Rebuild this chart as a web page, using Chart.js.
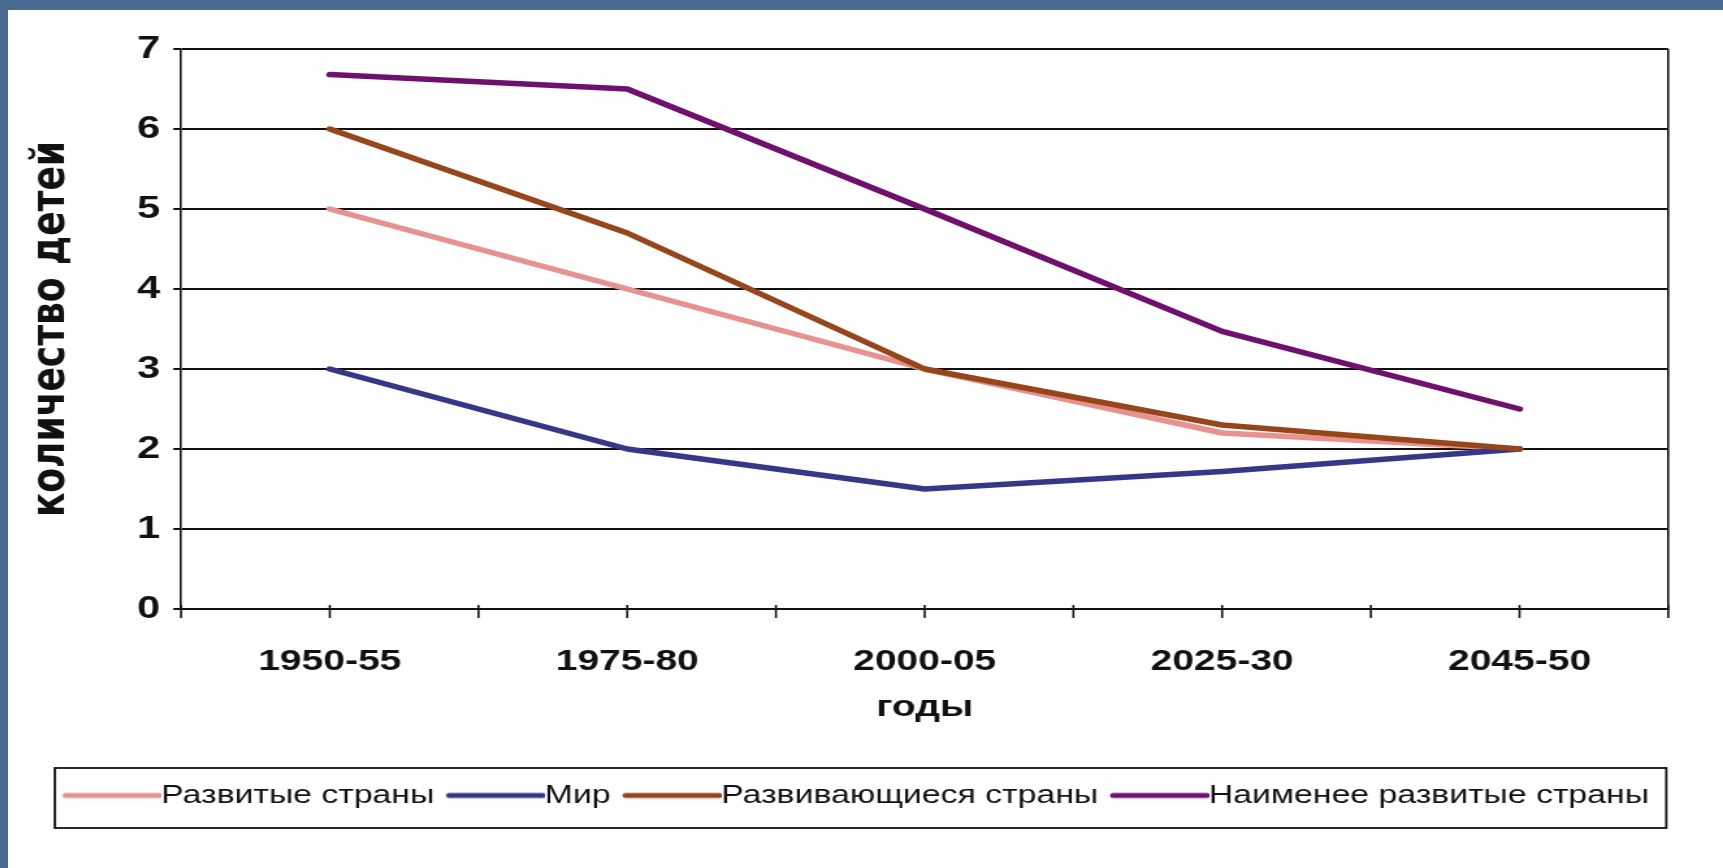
<!DOCTYPE html>
<html>
<head>
<meta charset="utf-8">
<script src="https://cdn.jsdelivr.net/npm/chart.js@4.4.1/dist/chart.umd.min.js"></script>
<style>
html,body{margin:0;padding:0;}
body{width:1723px;height:868px;background:#4b6a92;overflow:hidden;position:relative;}
#panel{position:absolute;left:8px;top:10px;width:1715px;height:858px;background:#ffffff;overflow:hidden;}
#wrap{position:absolute;left:0;top:0;width:1319px;height:858px;transform:scaleX(1.30023);transform-origin:0 0;}
</style>
</head>
<body>
<div id="panel"><div id="wrap"><canvas id="c" width="1319" height="858"></canvas></div></div>
<script>
// ---- data ----
const categories = ['1950-55', '1975-80', '2000-05', '2025-30', '2045-50'];
const seriesNames = ['Развитые страны', 'Мир', 'Развивающиеся страны', 'Наименее развитые страны'];
const developed = [5.0, 4.0, 3.0, 2.2, 2.0];
const world = [3.0, 2.0, 1.5, 1.72, 2.0];
const developing = [6.0, 4.7, 3.0, 2.3, 2.0];
const leastDeveloped = [6.68, 6.5, 5.0, 3.47, 2.5];
const yMin = 0, yMax = 7, yStep = 1;
const xTitle = 'годы';
const yTitle = 'количество детей';

// ---- styles ----
const seriesColors = ['#e8928f', '#37378a', '#96461a', '#6f106f'];
const drawOrder = [4, 3, 2, 1];
const FONT = "'Liberation Sans', Arial, sans-serif";
const TITLE_FONT = "'DejaVu Sans', 'Liberation Sans', sans-serif";
const INK = '#111111';

function legendLine(color) {
  const c = document.createElement('canvas');
  c.width = 89; c.height = 12;
  const g = c.getContext('2d');
  g.strokeStyle = color; g.lineWidth = 5; g.lineCap = 'round';
  g.beginPath(); g.moveTo(15, 6); g.lineTo(87, 6); g.stroke();
  return c;
}

const allSeries = [developed, world, developing, leastDeveloped];

const extras = {
  id: 'extras',
  afterDraw(chart) {
    const {ctx, chartArea, scales} = chart;
    const x = scales.x;
    const y0 = chartArea.bottom;
    const half = (x.getPixelForValue(1) - x.getPixelForValue(0)) / 2;
    ctx.save();
    ctx.strokeStyle = INK;
    ctx.lineWidth = 1.6;
    ctx.beginPath();
    for (let i = 0; i < categories.length; i++) {
      const c = x.getPixelForValue(i);
      const marks = [c - half, c];
      if (i === categories.length - 1) marks.push(c + half);
      marks.forEach(px => { ctx.moveTo(px, y0 - 4); ctx.lineTo(px, y0 + 9); });
    }
    ctx.stroke();
    const lg = chart.legend;
    ctx.lineWidth = 1.8;
    ctx.strokeRect(lg.left + 8, lg.top - 4.5, (lg.right - 1.5) - (lg.left + 8), 60);
    ctx.restore();
  }
};

new Chart(document.getElementById('c'), {
  type: 'line',
  data: {
    labels: categories,
    datasets: allSeries.map((vals, i) => ({
      label: seriesNames[i],
      data: vals,
      borderColor: seriesColors[i],
      backgroundColor: seriesColors[i],
      borderWidth: 5.5,
      pointRadius: 0,
      tension: 0,
      fill: false,
      order: drawOrder[i],
      borderCapStyle: 'round',
      borderJoinStyle: 'round'
    }))
  },
  options: {
    responsive: false,
    animation: false,
    layout: { padding: { left: 28, right: 42.1, top: 39, bottom: 49.5 } },
    plugins: {
      tooltip: { enabled: false },
      legend: {
        position: 'bottom',
        align: 'center',
        labels: {
          usePointStyle: true,
          pointStyleWidth: 62,
          padding: 10,
          color: INK,
          font: { family: FONT, size: 26 },
          sort: (a, b) => a.datasetIndex - b.datasetIndex,
          generateLabels(chart) {
            const items = Chart.defaults.plugins.legend.labels.generateLabels(chart);
            items.forEach(it => { it.pointStyle = legendLine(seriesColors[it.datasetIndex]); });
            return items;
          }
        }
      }
    },
    scales: {
      x: {
        offset: true,
        grid: {
          offset: true,
          drawTicks: false,
          lineWidth: 1.6,
          color: c => (c.type === 'scale' ? INK : 'rgba(0,0,0,0)')
        },
        border: { display: true, color: INK, width: 2 },
        ticks: {
          color: INK, padding: 34.5, maxRotation: 0, autoSkip: false,
          font: { family: FONT, size: 30, weight: 'bold' }
        },
        title: {
          display: true, text: xTitle, color: INK,
          font: { family: FONT, size: 30, weight: 'bold' },
          padding: { top: 0, bottom: 46.5 }
        },
        afterFit(s) { s.height = 163.5; }
      },
      y: {
        min: yMin, max: yMax,
        ticks: {
          stepSize: yStep, color: INK, padding: 10,
          font: { family: FONT, size: 32, weight: 'bold' }
        },
        grid: { color: INK, lineWidth: 2, tickLength: 6, drawTicks: true },
        border: { display: true, color: INK, width: 1.6 },
        title: {
          display: true, text: yTitle, color: INK,
          font: { family: TITLE_FONT, size: 36, weight: 'bold' },
          padding: { top: -15.8, bottom: 0 }
        },
        afterFit(s) { s.width = 105.1; }
      }
    }
  },
  plugins: [extras]
});
</script>
</body>
</html>
